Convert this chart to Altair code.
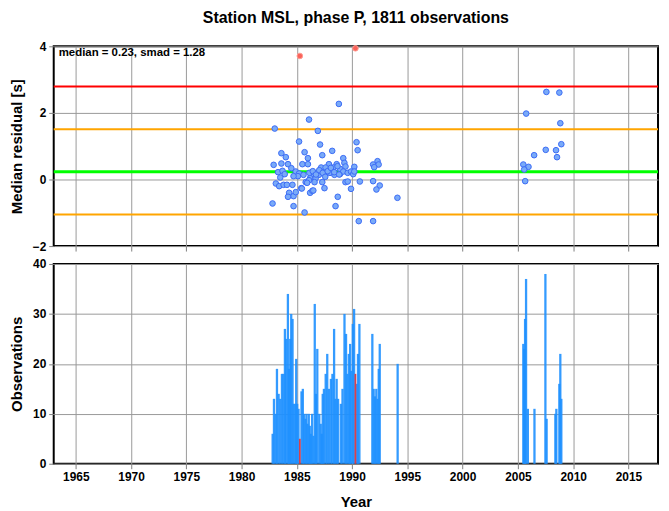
import altair as alt
import pandas as pd

# ---- data ----
pt_year = [1983.0, 1986.1, 1988.8, 1986.9, 1990.4, 1990.5, 1985.2, 1987.1, 1985.7, 1987.3,
           1988.2, 1983.6, 1984.0, 1986.0, 1989.2, 1992.3, 1991.9, 1992.4, 1992.0, 1982.9,
           1983.6, 1984.2, 1985.5, 1986.0, 1984.5, 1987.2, 1987.9, 1988.6, 1989.3, 1989.4,
           1990.2, 1987.6, 1988.3, 1988.9, 1983.3, 1983.7, 1983.9, 1983.5, 1984.9, 1985.2,
           1985.6, 1986.3, 1986.5, 1986.7, 1987.0, 1987.3, 1987.6, 1988.0, 1988.4, 1988.9,
           1989.2, 1989.6, 1989.9, 1990.1, 1990.2, 1986.2, 1985.1, 1984.7, 1986.7, 1983.1,
           1983.4, 1983.8, 1984.1, 1984.6, 1985.8, 1986.1, 1986.6, 1987.3, 1985.4, 1984.3,
           1984.7, 1984.2, 1984.9, 1986.2, 1986.4, 1987.5, 1989.4, 1989.6, 1989.9, 1990.7,
           1991.9, 1992.5, 1992.2, 1988.7, 1988.5, 1982.8, 1984.7, 1985.7, 1990.6, 1991.9,
           1994.1, 1986.13, 1986.44, 1986.73, 1987.03, 1987.34, 1987.79, 1988.08, 1988.38,
           1988.68, 1988.83, 1987.57, 1985.93, 1986.49, 1985.45,
           2007.58, 2008.75, 2005.75, 2008.84, 2008.93, 2007.52, 2008.45, 2006.47, 2008.54,
           2005.49, 2005.96, 2005.57, 2005.66]
pt_val = [1.53, 1.80, 2.27, 1.46, 1.12, 0.88, 1.14, 1.05, 0.82, 0.73,
          0.86, 0.79, 0.67, 0.64, 0.64, 0.55, 0.45, 0.45, 0.37, 0.44,
          0.48, 0.46, 0.46, 0.46, 0.34, 0.36, 0.46, 0.46, 0.50, 0.39,
          0.38, 0.36, 0.36, 0.32, 0.22, 0.26, 0.16, 0.06, 0.24, 0.18,
          0.14, 0.18, 0.10, 0.18, 0.14, 0.22, 0.16, 0.20, 0.14, 0.16,
          0.24, 0.20, 0.24, 0.16, 0.24, 0.04, 0.10, 0.10, 0.04, -0.12,
          -0.20, -0.16, -0.16, -0.16, -0.08, -0.02, -0.08, -0.08, -0.26, -0.40,
          -0.50, -0.52, -0.38, -0.40, -0.34, -0.26, -0.08, -0.06, -0.28, -0.06,
          -0.05, -0.18, -0.30, -0.52, -0.80, -0.72, -0.80, -0.99, -1.25, -1.25,
          -0.55, 0.20, 0.25, 0.15, 0.28, 0.20, 0.25, 0.35, 0.22,
          0.40, 0.15, 0.08, -0.10, -0.33, -0.27,
          2.63, 2.61, 1.98, 1.69, 1.06, 0.89, 0.88, 0.73, 0.67,
          0.45, 0.38, 0.30, -0.05]
out_year = [1985.27, 1990.30]
out_val = [3.71, 3.94]

median = 0.23
smad = 1.28
level_val = [2.79, 1.51, 0.23, -1.05]
level_kind = ["2 smad", "1 smad", "median", "1 smad low"]
level_color = ["#ff0000", "#ffa500", "#00ff00", "#ffa500"]
level_width = [2, 2, 3, 2]

bar_year = [1982.81, 1982.93, 1983.08, 1983.20, 1983.35, 1983.50, 1983.65, 1983.80, 1983.92,
            1984.04, 1984.19, 1984.28, 1984.40, 1984.49, 1984.61, 1984.70, 1984.85, 1984.94,
            1985.03, 1985.15, 1985.42, 1985.54, 1985.66, 1985.78, 1985.87, 1985.96, 1986.08,
            1986.17, 1986.26, 1986.38, 1986.50, 1986.62, 1986.73, 1986.85, 1987.03, 1987.16,
            1987.25, 1987.34, 1987.45, 1987.61, 1987.75, 1987.90, 1988.08, 1988.22, 1988.37,
            1988.49, 1988.60, 1988.73, 1988.98, 1989.13, 1989.31, 1989.45, 1989.58, 1989.70,
            1989.82, 1989.92, 1990.06, 1990.18, 1990.42, 1990.53, 1990.66,
            1991.83, 1991.95, 1992.06, 1992.19, 1992.30, 1992.41, 1992.50, 1994.12,
            2005.49, 2005.57, 2005.65, 2005.74, 2005.90, 2006.50, 2007.49, 2007.60,
            2008.39, 2008.48, 2008.75, 2008.84, 2008.93]
bar_count = [6, 13, 10, 19, 14, 13, 18, 18, 27,
             25, 34, 19, 25, 30, 29, 12, 12, 21,
             12, 11, 14.5, 15, 10, 9, 10, 8, 10,
             7.6, 6, 10, 5.6, 32, 14, 23, 10, 8,
             6, 14, 15, 18, 22, 15, 17, 18, 27,
             13, 17, 13, 12, 15, 30, 26, 18, 22,
             24, 18.6, 28, 31, 16, 22, 28,
             26, 15, 13.5, 15, 13, 19, 24, 20,
             24, 23, 29, 37, 11, 11, 38, 9,
             10, 11, 16, 22, 13]
red_bar_year = [1985.27, 1990.30]
red_bar_count = [5, 18]

x_ticks = [1965, 1970, 1975, 1980, 1985, 1990, 1995, 2000, 2005, 2010, 2015]
x_domain = [1963.0, 2017.68]

FONT = "Liberation Sans"
W, H = 608, 201

pts = pd.DataFrame({"year": pt_year, "val": pt_val})
outs = pd.DataFrame({"year": out_year, "val": out_val})
levels = pd.DataFrame({"val": level_val, "kind": level_kind,
                       "color": level_color, "w": level_width})
bars = pd.DataFrame({"year": bar_year, "n": bar_count})
rbars = pd.DataFrame({"year": red_bar_year, "n": red_bar_count})

xscale = alt.Scale(domain=x_domain, nice=False, zero=False, padding=0)
x_top = alt.X("year:Q", scale=xscale,
              axis=alt.Axis(values=x_ticks, labels=False, title=None, ticks=True, grid=True))
x_bot = alt.X("year:Q", scale=xscale,
              axis=alt.Axis(values=x_ticks, format="d", title="Year", grid=True))

yscale_top = alt.Scale(domain=[-2, 4], nice=False, zero=False, padding=0)
y_top_axis = alt.Axis(values=[-2, 0, 2, 4], title="Median residual [s]", grid=True)

rules = alt.Chart(levels).mark_rule().encode(
    y=alt.Y("val:Q", scale=yscale_top, axis=y_top_axis),
    color=alt.Color("color:N", scale=None),
    strokeWidth=alt.StrokeWidth("w:Q", scale=None),
)
blue_pts = alt.Chart(pts).mark_circle(
    size=32, fill="#79aaf8", stroke="#3c6cf5", strokeWidth=1, opacity=1
).encode(x=x_top, y=alt.Y("val:Q", scale=yscale_top, axis=y_top_axis))
red_pts = alt.Chart(outs).mark_circle(
    size=32, fill="#f9625a", stroke="#ff9c92", strokeWidth=1, opacity=1
).encode(x=x_top, y=alt.Y("val:Q", scale=yscale_top, axis=y_top_axis))
label = alt.Chart(pd.DataFrame({"t": [f"median = {median}, smad = {smad}"]})).mark_text(
    align="left", baseline="middle", font=FONT, fontSize=11.5, fontWeight="bold", color="black"
).encode(text="t:N", x=alt.value(5), y=alt.value(7))

top = alt.layer(rules, blue_pts, red_pts, label).properties(
    width=W, height=H,
    title=alt.TitleParams("Station MSL, phase P, 1811 observations", anchor="middle",
                          frame="group", font=FONT, fontSize=16, fontWeight="bold",
                          offset=14),
)

yscale_bot = alt.Scale(domain=[0, 40], nice=False, padding=0)
y_bot = alt.Y("n:Q", scale=yscale_bot,
              axis=alt.Axis(values=[0, 10, 20, 30, 40], title="Observations", grid=True))
blue_bars = alt.Chart(bars).mark_bar(width=2.3, color="#1e90ff", opacity=0.9).encode(
    x=x_bot, y=y_bot)
red_bars = alt.Chart(rbars).mark_bar(width=1.8, color="#d8404c").encode(x=x_bot, y=y_bot)
bottom = alt.layer(blue_bars, red_bars).properties(width=W, height=H)

chart = alt.vconcat(top, bottom, spacing=4).properties(
    padding={"left": 0, "top": 0, "right": 0, "bottom": 0}
).configure_view(
    stroke="black", strokeWidth=2
).configure_axis(
    labelFont=FONT, titleFont=FONT, labelFontSize=12, titleFontSize=15,
    labelFontWeight="bold", titleFontWeight="bold", labelColor="black", titleColor="black",
    gridColor="#999999", gridWidth=1, gridOpacity=1, domain=False,
    tickColor="#808080", tickSize=5, labelPadding=3,
).configure_axisY(titlePadding=8).configure_axisX(titlePadding=12)

chart.save("out.html", embed_options={"renderer": "svg", "actions": False})
